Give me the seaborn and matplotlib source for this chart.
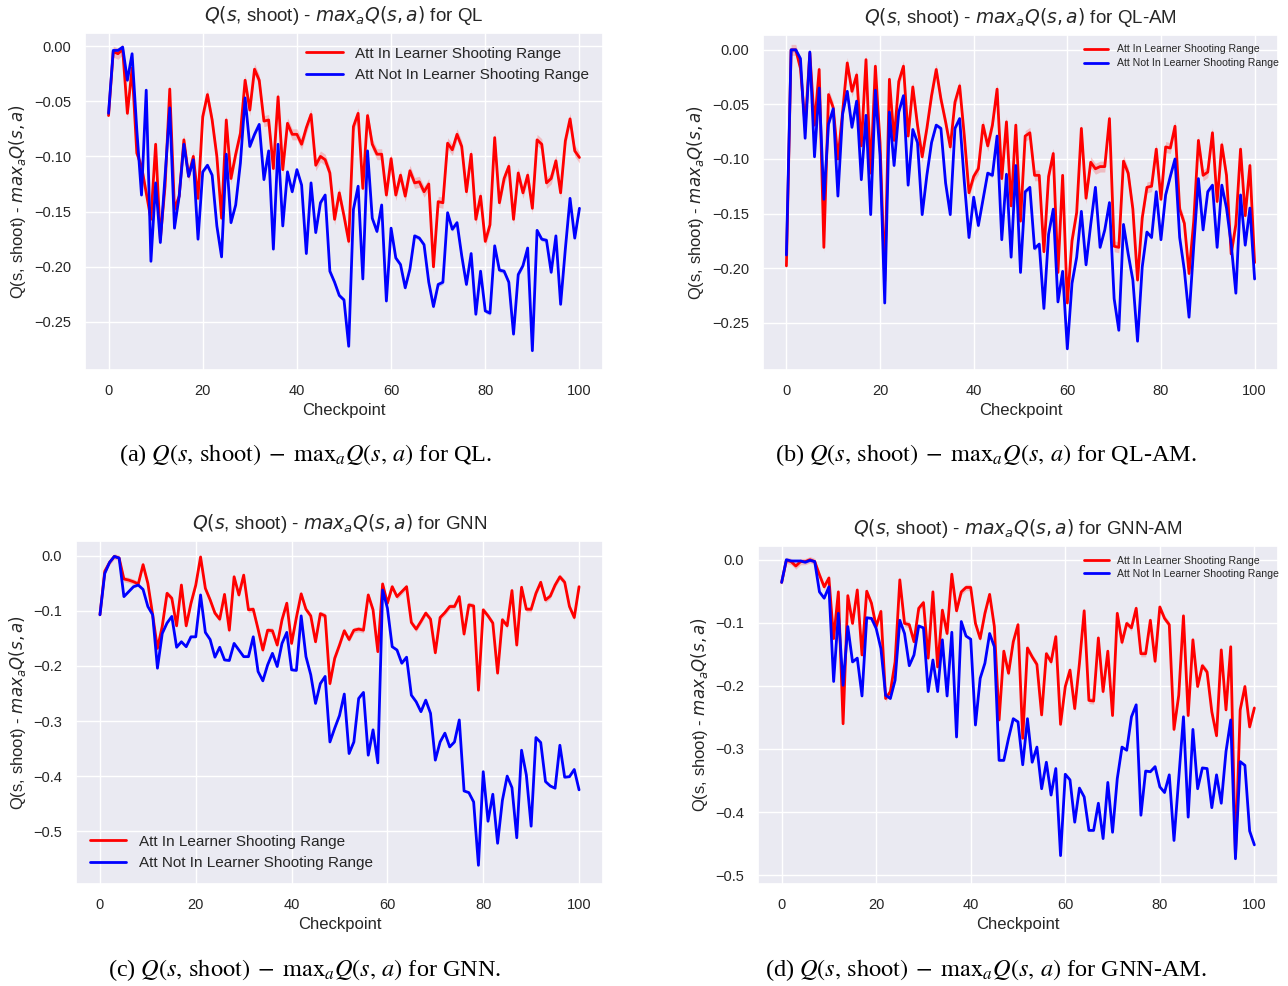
import matplotlib
matplotlib.use("Agg")
import matplotlib.pyplot as plt
import seaborn as sns

sns.set_theme(style="darkgrid")
plt.rcParams["font.family"] = ["Liberation Sans", "DejaVu Sans"]
plt.rcParams["mathtext.fontset"] = "dejavusans"
plt.rcParams["axes.unicode_minus"] = True

checkpoints = list(range(101))
label_in = "Att In Learner Shooting Range"
label_out = "Att Not In Learner Shooting Range"

# QL
ql_in = [-0.063, -0.005, -0.007, -0.003, -0.061, -0.020, -0.097, -0.109, -0.133, -0.157,
         -0.089, -0.175, -0.127, -0.039, -0.148, -0.136, -0.085, -0.118, -0.100, -0.138,
         -0.064, -0.044, -0.067, -0.100, -0.156, -0.067, -0.120, -0.098, -0.079, -0.031,
         -0.058, -0.021, -0.031, -0.068, -0.067, -0.111, -0.046, -0.112, -0.070, -0.080,
         -0.080, -0.089, -0.074, -0.062, -0.108, -0.100, -0.103, -0.115, -0.157, -0.133,
         -0.154, -0.177, -0.073, -0.061, -0.129, -0.063, -0.089, -0.098, -0.098, -0.135,
         -0.102, -0.135, -0.117, -0.136, -0.113, -0.124, -0.123, -0.132, -0.125, -0.200,
         -0.141, -0.142, -0.088, -0.094, -0.080, -0.091, -0.132, -0.098, -0.157, -0.136,
         -0.177, -0.162, -0.083, -0.142, -0.120, -0.109, -0.157, -0.115, -0.133, -0.117,
         -0.147, -0.085, -0.089, -0.124, -0.120, -0.104, -0.133, -0.086, -0.066, -0.095,
         -0.101]
ql_out = [-0.061, -0.004, -0.004, -0.001, -0.031, -0.007, -0.076, -0.135, -0.040, -0.195,
          -0.124, -0.178, -0.118, -0.056, -0.165, -0.136, -0.089, -0.118, -0.103, -0.175,
          -0.114, -0.108, -0.117, -0.163, -0.191, -0.098, -0.160, -0.144, -0.106, -0.047,
          -0.091, -0.080, -0.071, -0.121, -0.095, -0.184, -0.089, -0.163, -0.114, -0.132,
          -0.112, -0.126, -0.188, -0.124, -0.169, -0.142, -0.135, -0.204, -0.214, -0.226,
          -0.230, -0.272, -0.148, -0.127, -0.211, -0.095, -0.156, -0.168, -0.144, -0.231,
          -0.165, -0.192, -0.198, -0.219, -0.202, -0.172, -0.174, -0.180, -0.214, -0.236,
          -0.216, -0.214, -0.151, -0.166, -0.160, -0.190, -0.216, -0.188, -0.243, -0.204,
          -0.240, -0.242, -0.181, -0.203, -0.204, -0.214, -0.261, -0.207, -0.199, -0.183,
          -0.276, -0.167, -0.175, -0.176, -0.205, -0.172, -0.234, -0.184, -0.138, -0.174,
          -0.147]

# QL-AM
qlam_in = [-0.198, 0.000, 0.000, -0.017, -0.070, -0.003, -0.069, -0.018, -0.181, -0.041,
           -0.053, -0.100, -0.057, -0.012, -0.038, -0.023, -0.088, -0.009, -0.113, -0.015,
           -0.085, -0.212, -0.027, -0.083, -0.029, -0.015, -0.079, -0.034, -0.069, -0.098,
           -0.072, -0.042, -0.018, -0.045, -0.066, -0.089, -0.048, -0.033, -0.079, -0.131,
           -0.116, -0.109, -0.069, -0.088, -0.069, -0.036, -0.118, -0.066, -0.143, -0.069,
           -0.157, -0.079, -0.076, -0.115, -0.115, -0.185, -0.116, -0.095, -0.204, -0.115,
           -0.232, -0.175, -0.149, -0.072, -0.136, -0.103, -0.109, -0.107, -0.107, -0.063,
           -0.180, -0.181, -0.102, -0.113, -0.146, -0.211, -0.154, -0.126, -0.125, -0.091,
           -0.137, -0.089, -0.090, -0.070, -0.146, -0.159, -0.205, -0.157, -0.083, -0.115,
           -0.112, -0.076, -0.139, -0.087, -0.115, -0.187, -0.160, -0.091, -0.152, -0.106,
           -0.195]
qlam_out = [-0.188, 0.000, 0.000, -0.008, -0.081, -0.002, -0.098, -0.035, -0.137, -0.068,
            -0.054, -0.134, -0.059, -0.038, -0.071, -0.047, -0.119, -0.060, -0.151, -0.037,
            -0.097, -0.232, -0.057, -0.106, -0.057, -0.042, -0.124, -0.073, -0.085, -0.151,
            -0.115, -0.085, -0.069, -0.072, -0.122, -0.151, -0.072, -0.063, -0.121, -0.172,
            -0.135, -0.161, -0.137, -0.113, -0.115, -0.079, -0.174, -0.114, -0.190, -0.106,
            -0.204, -0.130, -0.126, -0.182, -0.178, -0.237, -0.169, -0.146, -0.231, -0.203,
            -0.274, -0.214, -0.190, -0.148, -0.197, -0.160, -0.126, -0.181, -0.165, -0.140,
            -0.228, -0.257, -0.160, -0.187, -0.211, -0.267, -0.199, -0.167, -0.172, -0.130,
            -0.174, -0.133, -0.116, -0.100, -0.172, -0.202, -0.245, -0.180, -0.118, -0.165,
            -0.130, -0.124, -0.181, -0.124, -0.145, -0.178, -0.223, -0.133, -0.179, -0.145,
            -0.210]

# GNN
gnn_in = [-0.107, -0.028, -0.012, -0.001, -0.004, -0.042, -0.044, -0.047, -0.051, -0.016,
          -0.050, -0.107, -0.168, -0.128, -0.068, -0.077, -0.127, -0.053, -0.127, -0.086,
          -0.053, -0.002, -0.059, -0.080, -0.104, -0.115, -0.070, -0.135, -0.038, -0.071,
          -0.035, -0.098, -0.097, -0.133, -0.171, -0.135, -0.136, -0.162, -0.116, -0.086,
          -0.159, -0.112, -0.069, -0.097, -0.109, -0.156, -0.105, -0.109, -0.232, -0.186,
          -0.162, -0.136, -0.152, -0.135, -0.133, -0.135, -0.071, -0.098, -0.174, -0.051,
          -0.086, -0.056, -0.074, -0.065, -0.056, -0.121, -0.133, -0.119, -0.104, -0.115,
          -0.176, -0.112, -0.103, -0.092, -0.092, -0.074, -0.142, -0.089, -0.091, -0.244,
          -0.098, -0.109, -0.122, -0.213, -0.116, -0.127, -0.063, -0.162, -0.057, -0.097,
          -0.097, -0.068, -0.048, -0.080, -0.073, -0.053, -0.038, -0.048, -0.092, -0.112,
          -0.056]
gnn_out = [-0.107, -0.032, -0.012, -0.001, -0.004, -0.074, -0.065, -0.056, -0.053, -0.061,
           -0.092, -0.107, -0.204, -0.141, -0.122, -0.110, -0.166, -0.156, -0.165, -0.147,
           -0.147, -0.071, -0.139, -0.152, -0.184, -0.166, -0.189, -0.190, -0.159, -0.171,
           -0.183, -0.183, -0.147, -0.210, -0.227, -0.198, -0.177, -0.201, -0.159, -0.139,
           -0.207, -0.208, -0.109, -0.183, -0.216, -0.268, -0.232, -0.219, -0.338, -0.313,
           -0.290, -0.251, -0.359, -0.338, -0.259, -0.248, -0.362, -0.316, -0.376, -0.062,
           -0.095, -0.165, -0.171, -0.195, -0.184, -0.253, -0.265, -0.283, -0.262, -0.286,
           -0.371, -0.338, -0.322, -0.347, -0.338, -0.298, -0.427, -0.430, -0.447, -0.562,
           -0.392, -0.482, -0.433, -0.522, -0.444, -0.400, -0.421, -0.512, -0.353, -0.398,
           -0.491, -0.330, -0.339, -0.410, -0.418, -0.422, -0.344, -0.402, -0.401, -0.388,
           -0.425]

# GNN-AM
gnnam_in = [-0.036, -0.001, -0.003, -0.010, -0.003, -0.003, 0.000, -0.003, -0.024, -0.043,
            -0.029, -0.125, -0.051, -0.260, -0.057, -0.101, -0.048, -0.151, -0.050, -0.069,
            -0.106, -0.082, -0.220, -0.209, -0.162, -0.032, -0.101, -0.103, -0.130, -0.077,
            -0.068, -0.156, -0.051, -0.170, -0.080, -0.117, -0.023, -0.081, -0.051, -0.044,
            -0.044, -0.101, -0.125, -0.085, -0.055, -0.106, -0.254, -0.145, -0.180, -0.130,
            -0.103, -0.283, -0.140, -0.154, -0.166, -0.246, -0.149, -0.162, -0.122, -0.261,
            -0.201, -0.175, -0.236, -0.164, -0.081, -0.223, -0.224, -0.124, -0.209, -0.145,
            -0.247, -0.085, -0.131, -0.101, -0.108, -0.077, -0.149, -0.149, -0.096, -0.161,
            -0.075, -0.093, -0.103, -0.269, -0.215, -0.089, -0.247, -0.127, -0.201, -0.168,
            -0.178, -0.241, -0.279, -0.143, -0.238, -0.138, -0.471, -0.238, -0.201, -0.265,
            -0.235]
gnnam_out = [-0.036, 0.000, -0.002, -0.002, -0.002, -0.004, -0.001, -0.003, -0.051, -0.061,
             -0.043, -0.193, -0.085, -0.199, -0.106, -0.162, -0.156, -0.216, -0.092, -0.093,
             -0.109, -0.141, -0.215, -0.220, -0.191, -0.096, -0.117, -0.168, -0.151, -0.105,
             -0.108, -0.209, -0.159, -0.209, -0.127, -0.216, -0.115, -0.281, -0.098, -0.121,
             -0.126, -0.262, -0.188, -0.164, -0.117, -0.138, -0.318, -0.318, -0.283, -0.252,
             -0.257, -0.325, -0.252, -0.321, -0.297, -0.363, -0.321, -0.373, -0.331, -0.469,
             -0.340, -0.349, -0.416, -0.362, -0.376, -0.429, -0.429, -0.386, -0.442, -0.353,
             -0.432, -0.347, -0.297, -0.302, -0.249, -0.230, -0.405, -0.335, -0.336, -0.328,
             -0.360, -0.369, -0.341, -0.445, -0.347, -0.249, -0.408, -0.269, -0.363, -0.330,
             -0.331, -0.393, -0.341, -0.386, -0.304, -0.254, -0.474, -0.320, -0.326, -0.430,
             -0.452]

W, H = 1288, 986
fig = plt.figure(figsize=(W / 100, H / 100), dpi=100)


def px_axes(left, top, right, bottom):
    return fig.add_axes([left / W, 1 - bottom / H, (right - left) / W, (bottom - top) / H])


def panel(ax, y_in, y_out, name, ylim, legend_kw):
    for vals, col, lab, band in [(y_in, "red", label_in, 0.005), (y_out, "blue", label_out, 0.002)]:
        ax.fill_between(checkpoints, [v - band for v in vals], [v + band for v in vals],
                        color=col, alpha=0.2, lw=0)
        sns.lineplot(x=checkpoints, y=vals, color=col, lw=2, label=lab, ax=ax)
    ax.set_xlim(-5, 105)
    ax.set_ylim(*ylim)
    ax.set_xticks([0, 20, 40, 60, 80, 100])
    ax.tick_params(labelsize=10.5, pad=4)
    ax.set_xlabel("Checkpoint", fontsize=12)
    ax.set_ylabel("Q(s, shoot) - $max_aQ(s, a)$", fontsize=12)
    ax.set_title("$Q(s$, shoot) - $max_aQ(s, a)$ for " + name, fontsize=13.5, pad=8.5)
    ax.legend(frameon=False, **legend_kw)


ax_a = px_axes(85, 33, 603, 370)
panel(ax_a, ql_in, ql_out, "QL", (-0.2935, 0.0118),
      dict(loc="upper right", fontsize=11, handlelength=2.4))

ax_b = px_axes(763, 35, 1278, 370)
panel(ax_b, qlam_in, qlam_out, "QL-AM", (-0.2934, 0.0136),
      dict(loc="upper right", fontsize=7.6, handlelength=2.3, bbox_to_anchor=(1.02, 1.0),
           labelspacing=0.35))

ax_c = px_axes(76, 541, 603, 884)
panel(ax_c, gnn_in, gnn_out, "GNN", (-0.596, 0.027),
      dict(loc="lower left", fontsize=11, handlelength=2.4))

ax_d = px_axes(758, 546, 1278, 884)
panel(ax_d, gnnam_in, gnnam_out, "GNN-AM", (-0.514, 0.0217),
      dict(loc="upper right", fontsize=7.6, handlelength=2.3, bbox_to_anchor=(1.02, 1.0),
           labelspacing=0.35))

captions = [
    (306, 455, "(a)", "QL."),
    (986, 455, "(b)", "QL-AM."),
    (305, 970, "(c)", "GNN."),
    (986, 970, "(d)", "GNN-AM."),
]
for cx, cy, tag, name in captions:
    fig.text(cx / W, 1 - cy / H,
             tag + r" $Q(s,\,\mathrm{shoot})\;-\;\mathrm{max}_a Q(s,\,a)$ for " + name,
             ha="center", va="center", fontsize=17.5, color="black",
             family="Liberation Serif", math_fontfamily="stix")

fig.savefig("out.png", dpi=100, facecolor="white")
